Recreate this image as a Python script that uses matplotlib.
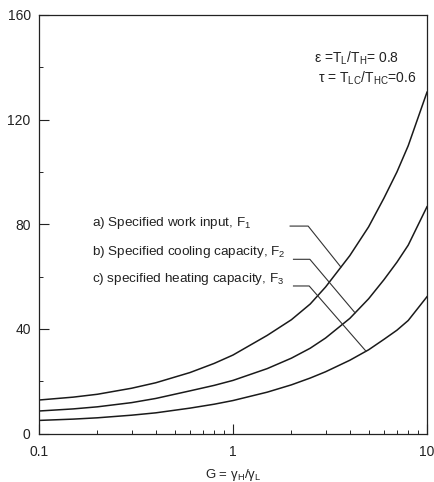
import numpy as np
import matplotlib
matplotlib.use('Agg')
import matplotlib.pyplot as plt
from matplotlib.ticker import FixedLocator, LogLocator, NullFormatter

plt.rcParams['font.family'] = ['Liberation Sans', 'DejaVu Sans']
plt.rcParams['mathtext.fontset'] = 'custom'
plt.rcParams['mathtext.rm'] = 'Liberation Sans'
plt.rcParams['mathtext.it'] = 'Liberation Sans:italic'

# values
G = [0.1, 0.15, 0.2, 0.3, 0.4, 0.6, 0.8, 1, 1.5, 2, 2.5, 3, 4, 5, 6, 7, 8, 10]
F1 = [12.8, 13.9, 15.0, 17.3, 19.4, 23.3, 26.8, 30.0, 37.5, 43.5, 49.5, 56.0,
      68.0, 79.0, 90.0, 100.0, 110.0, 130.5]
F2 = [8.6, 9.4, 10.2, 11.8, 13.4, 16.3, 18.4, 20.3, 24.8, 28.8, 32.6, 36.5,
      44.0, 51.5, 58.8, 65.5, 72.0, 86.7]
F3 = [5.0, 5.5, 6.0, 7.0, 7.9, 9.7, 11.2, 12.6, 15.8, 18.6, 21.2, 23.6,
      28.0, 32.0, 36.0, 39.5, 43.2, 52.3]

labels = ['a) Specified work input, $\\mathregular{F_1}$',
          'b) Specified cooling capacity, $\\mathregular{F_2}$',
          'c) specified heating capacity, $\\mathregular{F_3}$']
label_y = [0.503, 0.433, 0.368]
# leader lines: start G, knee G, level y, G where it meets the curve
lead_start = [1.97, 2.05, 2.05]
lead_knee = [2.44, 2.49, 2.47]
lead_y = [79.3, 66.6, 56.4]
lead_end = [3.6, 4.26, 4.85]

fig = plt.figure(figsize=(4.35, 4.82), dpi=100)
ax = fig.add_axes([39/435, 48.5/482, 388/435, 418.5/482])

lc = '#1a1a1a'
logG = np.log10(G)
for ys in (F1, F2, F3):
    ax.plot(G, ys, color=lc, lw=1.1)

for i, ys in enumerate((F1, F2, F3)):
    yend = np.interp(np.log10(lead_end[i]), logG, ys)
    ax.plot([lead_start[i], lead_knee[i], lead_end[i]],
            [lead_y[i], lead_y[i], yend], color='#333333', lw=0.8)
    ax.text(0.136, label_y[i], labels[i], transform=ax.transAxes,
            fontsize=9.7, va='center', ha='left', color='#222222')

ax.text(0.709, 0.897, 'ε =$\\mathregular{T_L/T_H}$= 0.8', transform=ax.transAxes,
        fontsize=10, va='center', ha='left', color='#222222')
ax.text(0.719, 0.849, 'τ = $\\mathregular{T_{LC}/T_{HC}}$=0.6', transform=ax.transAxes,
        fontsize=10, va='center', ha='left', color='#222222')

ax.set_xscale('log')
ax.set_xlim(0.1, 10)
ax.set_ylim(0, 160)
ax.set_xticks([0.1, 1, 10])
ax.set_xticklabels(['0.1', '1', '10'])
ax.xaxis.set_minor_locator(LogLocator(base=10, subs=np.arange(2, 10)))
ax.xaxis.set_minor_formatter(NullFormatter())
ax.set_yticks([0, 40, 80, 120, 160])
ax.yaxis.set_minor_locator(FixedLocator([20, 60, 100, 140]))

ax.tick_params(which='major', direction='in', length=7, width=0.8, labelsize=10,
               colors='#222222', pad=8)
ax.tick_params(which='minor', direction='in', length=3, width=0.6)
ax.tick_params(axis='y', pad=6)
for s in ax.spines.values():
    s.set_linewidth(0.9)
    s.set_color('#222222')

ax.set_xlabel('G = $\\mathregular{\\gamma_H/\\gamma_L}$', fontsize=9.5, color='#222222', labelpad=6)

fig.savefig('out.png', dpi=100)
